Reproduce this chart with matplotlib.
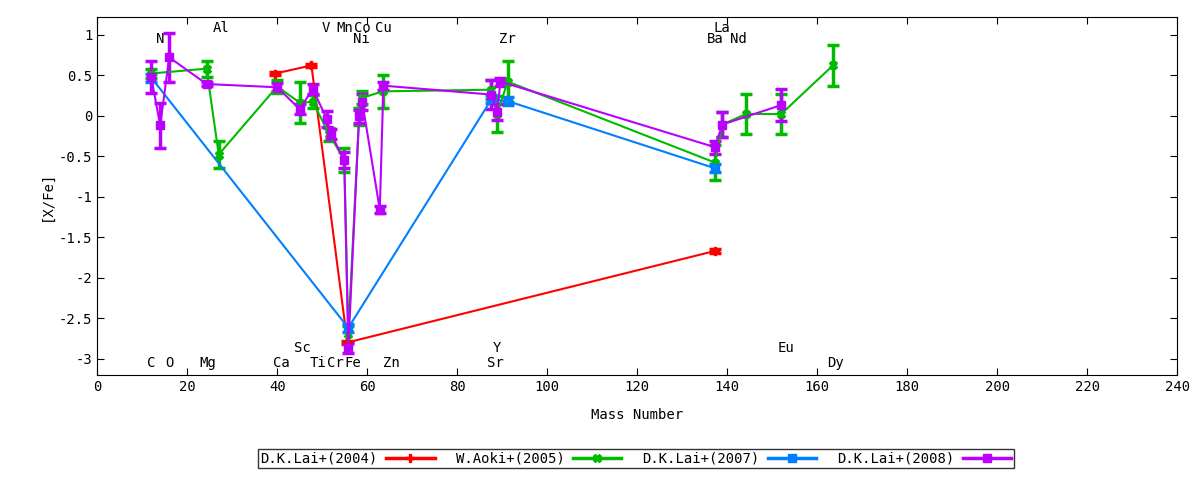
import matplotlib
matplotlib.use("Agg")
import matplotlib.pyplot as plt
from matplotlib.lines import Line2D

# D.K.Lai+(2004)
red_x = [39.6, 47.6, 55.6, 137.3]
red_y = [0.52, 0.62, -2.8, -1.67]
red_e = [0.02, 0.02, 0.02, 0.02]
# W.Aoki+(2005)
green_x = [12, 24.3, 27, 40, 45, 47.9, 51.6, 54.9, 55.8, 58.2, 58.9, 63.5, 87.6, 88.9, 91.2, 137.3, 138.9, 144.2, 152.0, 163.5]
green_y = [0.52, 0.58, -0.48, 0.36, 0.16, 0.17, -0.23, -0.55, -2.7, -0.01, 0.22, 0.3, 0.32, 0.02, 0.42, -0.58, -0.11, 0.02, 0.02, 0.62]
green_e = [0.05, 0.1, 0.17, 0.08, 0.25, 0.08, 0.08, 0.15, 0.1, 0.1, 0.08, 0.2, 0.12, 0.22, 0.25, 0.22, 0.15, 0.25, 0.25, 0.25]
# D.K.Lai+(2007)
blue_x = [12, 55.8, 87.6, 91.2, 137.3]
blue_y = [0.47, -2.62, 0.2, 0.18, -0.65]
blue_e = [0.05, 0.05, 0.05, 0.05, 0.05]
# D.K.Lai+(2008)
purple_x = [12, 14, 16, 24.3, 40, 45, 47.9, 51, 52, 54.9, 55.8, 58.2, 58.9, 62.8, 63.6, 87.6, 88.9, 89.6, 137.3, 138.9, 152.0]
purple_y = [0.48, -0.12, 0.72, 0.39, 0.35, 0.08, 0.33, -0.04, -0.23, -0.55, -2.87, -0.01, 0.17, -1.16, 0.37, 0.26, 0.04, 0.42, -0.39, -0.11, 0.13]
purple_e = [0.2, 0.28, 0.3, 0.03, 0.05, 0.06, 0.06, 0.1, 0.06, 0.1, 0.06, 0.08, 0.1, 0.04, 0.05, 0.18, 0.1, 0.05, 0.08, 0.15, 0.2]

top_labels = [("N", 14, 0.95), ("Al", 27.5, 1.08), ("V", 50.9, 1.08), ("Mn", 55, 1.08),
              ("Co", 58.9, 1.08), ("Cu", 63.5, 1.08), ("Ni", 58.7, 0.95), ("Zr", 91.2, 0.95),
              ("La", 138.9, 1.08), ("Ba", 137.3, 0.95), ("Nd", 142.5, 0.95)]
bot_labels = [("C", 12, -3.05), ("O", 16, -3.05), ("Mg", 24.6, -3.05), ("Ca", 41, -3.05),
              ("Ti", 49, -3.05), ("Cr", 53, -3.05), ("Fe", 56.8, -3.05), ("Zn", 65.4, -3.05),
              ("Sr", 88.5, -3.05), ("Dy", 164, -3.05), ("Sc", 45.5, -2.87), ("Y", 88.9, -2.87),
              ("Eu", 153, -2.87)]

plt.rcParams['font.family'] = ['DejaVu Sans Mono']
plt.rcParams['font.size'] = 10
fig = plt.figure(figsize=(12, 4.8), dpi=100)
ax = fig.add_axes([0.081, 0.219, 0.9, 0.746])

series = [(red_x, red_y, red_e, '#ff0000', 'P', 'D.K.Lai+(2004)'),
          (green_x, green_y, green_e, '#00bb00', 'X', 'W.Aoki+(2005)'),
          (blue_x, blue_y, blue_e, '#0080ff', 's', 'D.K.Lai+(2007)'),
          (purple_x, purple_y, purple_e, '#bb00ff', 's', 'D.K.Lai+(2008)')]
handles = []
for x, y, e, c, m, lab in series:
    ax.errorbar(x, y, yerr=e, color=c, marker=m, ms=6, lw=1.5, elinewidth=2.5,
                capsize=4, capthick=2.5)
    handles.append(Line2D([0], [0], color=c, lw=2.5, marker=m, ms=6, label=lab))

for t, x, y in top_labels + bot_labels:
    ax.text(x, y, t, ha='center', va='center')

ax.set_xlim(0, 240)
ax.set_ylim(-3.2, 1.22)
ax.set_xticks(range(0, 241, 20))
ax.set_yticks([1, 0.5, 0, -0.5, -1, -1.5, -2, -2.5, -3])
ax.set_yticklabels(['1', '0.5', '0', '-0.5', '-1', '-1.5', '-2', '-2.5', '-3'])
ax.tick_params(direction='in', top=True, right=True, length=5)
ax.set_xlabel('Mass Number', labelpad=10)
ax.set_ylabel('[X/Fe]')
fig.legend(handles=handles, loc='lower center', bbox_to_anchor=(0.53, 0.01), ncol=4,
           markerfirst=False, frameon=True, fancybox=False, edgecolor='black',
           handlelength=3.5, columnspacing=1.5, borderpad=0.2, handletextpad=0.6)
fig.savefig('out.png')
